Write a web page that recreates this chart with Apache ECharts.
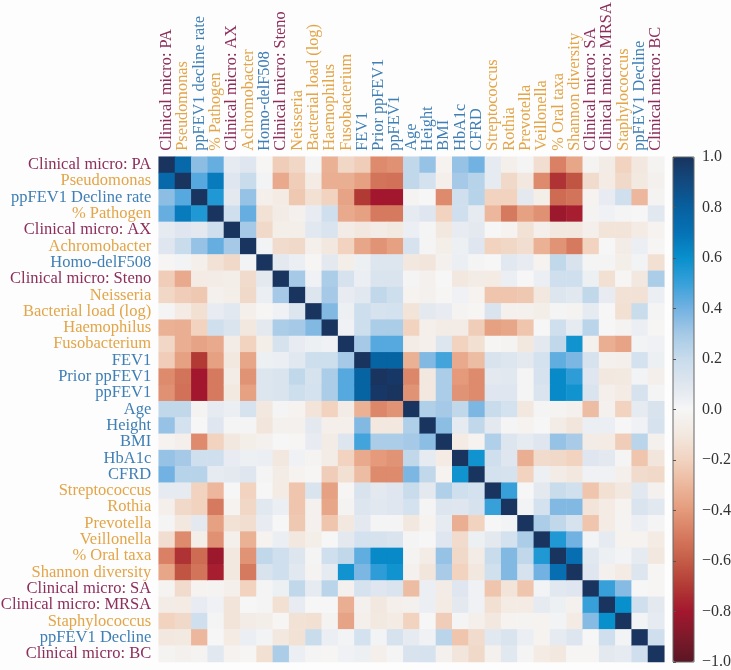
<!DOCTYPE html>
<html><head><meta charset="utf-8">
<style>html,body{margin:0;padding:0;background:#fdfdfd}#c{width:731px;height:670px}</style>
<script src="https://cdn.jsdelivr.net/npm/echarts@6/dist/echarts.min.js"></script>
</head><body><div id="c"></div>
<script>
const leftLabels = ['Clinical micro: PA','Pseudomonas','ppFEV1 Decline rate','% Pathogen','Clinical micro: AX','Achromobacter','Homo-delF508','Clinical micro: Steno','Neisseria','Bacterial load (log)','Haemophilus','Fusobacterium','FEV1','Prior ppFEV1','ppFEV1','Age','Height','BMI','HbA1c','CFRD','Streptococcus','Rothia','Prevotella','Veillonella','% Oral taxa','Shannon diversity','Clinical micro: SA','Clinical micro: MRSA','Staphylococcus','ppFEV1 Decline','Clinical micro: BC'];
const topLabels = leftLabels.map(s => s === 'ppFEV1 Decline rate' ? 'ppFEV1 decline rate' : s);
const groups = ['m','o','b','o','m','o','b','m','o','o','o','o','b','b','b','b','b','b','b','b','o','o','o','o','o','o','m','m','o','b','m'];
const groupColors = {m:'#8c2d5a', o:'#e3a548', b:'#3f7fb5'};
const colorStops = ['#5b1524','#7d1a2a','#a3172e','#b23a35','#c45c47','#d67a5f','#e49a7b','#ecb79c','#f1d3c0','#f2e8df','#f6f6f6','#dfe6ef','#c8dcec','#a5c9e6','#72b2e2','#37a0d9','#0890cd','#0672b5','#07609f','#124a80','#18345f'];

// upper triangle of the correlation matrix, each row starts at its diagonal
const r00=[1,.75,.35,.42,.07,.1,-.01,-.22,-.18,.01,-.32,-.18,-.22,-.45,-.43,.22,.33,-.03,.33,.4,.07,-.05,.01,-.15,-.48,-.36,-.02,-.07,-.2,-.1,-.02];
const r01=[1,.45,.67,.1,.2,.02,-.35,-.22,-.08,-.33,-.33,-.38,-.52,-.53,.22,.15,-.05,.3,.25,.07,-.17,-.1,-.45,-.72,-.62,-.16,-.08,-.17,-.09,-.04];
const r02=[1,.55,.08,.33,-.05,-.08,-.24,-.14,-.2,-.37,-.7,-.8,-.8,-.02,0,-.45,.17,.25,-.2,-.2,.08,-.06,-.55,-.52,-.03,.06,.17,-.3,-.02];
const r03=[1,.17,.42,-.13,-.07,-.04,.06,.17,-.35,-.38,-.5,-.5,.07,.1,-.2,.17,.07,-.3,-.5,-.38,-.43,-.82,-.78,-.02,.03,.01,0,.09];
const r04=[1,.3,-.17,-.06,-.06,.09,.12,-.07,-.1,-.07,-.09,.05,.01,-.1,.06,.08,0,-.03,-.13,-.05,-.1,-.1,-.05,-.12,-.12,-.08,-.03];
const r05=[1,.02,-.16,-.17,-.05,-.1,-.2,-.36,-.42,-.38,.14,.01,-.06,.04,.1,-.2,-.18,-.15,-.32,-.42,-.5,-.2,0,-.07,.05,-.01];
const r06=[1,.08,.05,-.01,.08,-.06,.04,.11,.11,-.1,-.11,-.04,.05,.01,0,.09,.06,-.03,.22,.13,.01,.01,-.06,.02,-.14];
const r07=[1,.3,.03,.28,.14,.05,.12,.12,.01,-.04,0,-.1,-.07,-.08,.05,0,.05,.17,.17,.04,-.14,-.01,-.1,.28];
const r08=[1,.11,.3,.06,.09,.22,.18,-.03,-.04,-.01,.03,-.03,-.25,-.25,-.24,-.1,.11,.09,.22,.06,-.13,-.13,.05];
const r09=[1,.37,.04,.18,.14,.15,-.12,.08,.06,-.02,-.01,.12,-.04,-.04,-.06,.01,-.02,.07,0,-.14,.2,.01];
const r10=[1,.03,.18,.28,.28,-.2,-.05,-.07,-.07,-.22,-.38,-.36,-.25,0,.17,.07,.24,0,-.02,.05,-.01];
const r11=[1,.3,.45,.45,-.07,-.05,.11,-.2,-.14,-.01,-.02,-.1,.08,.22,.58,-.04,-.33,-.37,.02,.03];
const r12=[1,.78,.78,-.32,.37,.48,-.35,-.28,.13,.11,.08,.15,.43,.38,.14,-.04,-.05,.15,.04];
const r13=[1,.98,-.46,-.1,.28,-.4,-.45,.08,.09,.01,.14,.62,.52,.1,-.1,-.09,.02,-.05];
const r14=[1,-.42,-.1,.28,-.42,-.45,.1,.1,.01,.12,.62,.58,.12,-.05,-.08,.14,.01];
const r15=[1,.27,.3,.22,.38,.2,.15,-.1,.01,-.02,-.04,-.28,-.04,-.2,.07,.13];
const r16=[1,.35,.07,.22,.08,.01,-.03,0,-.07,-.11,.05,.05,0,.03,.14];
const r17=[1,-.08,-.03,.27,.11,.07,.1,.33,.29,-.07,-.08,-.22,.24,-.04];
const r18=[1,.58,.17,.1,-.33,-.16,-.17,-.2,.1,.08,.01,-.25,-.11];
const r19=[1,.15,.14,-.2,.04,-.07,-.1,.03,.03,-.05,-.16,-.17];
const r20=[1,.5,0,.08,.2,.16,-.25,-.14,-.1,.09,-.04];
const r21=[1,.02,.15,.37,.37,-.12,-.08,-.03,.12,.09];
const r22=[1,.28,.22,.14,-.25,-.08,-.02,.05,.01];
const r23=[1,.55,.4,.02,.07,-.03,-.03,-.08];
const r24=[1,.72,.09,.04,.02,.07,-.1];
const r25=[1,.1,-.04,-.08,.11,-.01];
const r26=[1,.5,.36,0,-.01];
const r27=[1,.6,.17,.08];
const r28=[1,.02,.07];
const r29=[1,.17];
const r30=[1];
const upper=[r00,r01,r02,r03,r04,r05,r06,r07,r08,r09,r10,r11,r12,r13,r14,r15,r16,r17,r18,r19,r20,r21,r22,r23,r24,r25,r26,r27,r28,r29,r30];

const cells=[];
upper.forEach((row,i)=>row.forEach((v,k)=>{
  const j=i+k;
  cells.push([j,i,v]);
  if(j!==i) cells.push([i,j,v]);
}));
const font='"Liberation Serif", serif';
const labelData=(arr)=>arr.map((s,i)=>({value:s,textStyle:{color:groupColors[groups[i]]}}));

const chart=echarts.init(document.getElementById('c'),null,{renderer:'canvas'});
chart.setOption({
  backgroundColor:'#fdfdfd',
  animation:false,
  grid:[
    {left:158.7,top:156.7,width:505.6,height:505.3,outerBoundsMode:'none'},
    {left:673,top:157,width:21,height:505,show:true,borderColor:'#666',borderWidth:1,backgroundColor:'transparent',z:6,outerBoundsMode:'none'}
  ],
  xAxis:[
    {type:'category',gridIndex:0,position:'top',data:labelData(topLabels),
     axisLine:{show:false},axisTick:{show:false},splitLine:{show:false},
     axisLabel:{interval:0,rotate:-90,margin:6,fontFamily:font,fontSize:16.3,hideOverlap:false}},
    {type:'value',gridIndex:1,min:0,max:1,show:false}
  ],
  yAxis:[
    {type:'category',gridIndex:0,inverse:true,data:labelData(leftLabels),
     axisLine:{show:false},axisTick:{show:false},splitLine:{show:false},
     axisLabel:{interval:0,margin:7.5,fontFamily:font,fontSize:16.5,hideOverlap:false}},
    {type:'value',gridIndex:1,position:'right',min:-1,max:1,interval:0.2,z:6,
     axisLine:{show:false},splitLine:{show:false},
     axisTick:{show:true,length:3,lineStyle:{color:'#555',width:1}},
     axisLabel:{show:true,margin:8,color:'#333',fontFamily:font,fontSize:16,
       showMinLabel:true,showMaxLabel:true,
       formatter:v=>(v<-0.001?'\u2212':'')+Math.abs(v).toFixed(1)}}
  ],
  visualMap:{type:'continuous',show:true,seriesIndex:0,min:-1,max:1,calculable:false,
    left:673,top:157,itemWidth:21,itemHeight:505,text:null,showLabel:false,padding:0,
    inRange:{color:colorStops},textStyle:{color:'transparent',fontSize:1},z:4},
  series:[{type:'heatmap',xAxisIndex:0,yAxisIndex:0,data:cells,progressive:0,
    itemStyle:{borderWidth:0},emphasis:{disabled:true},silent:true}]
});
</script></body></html>
